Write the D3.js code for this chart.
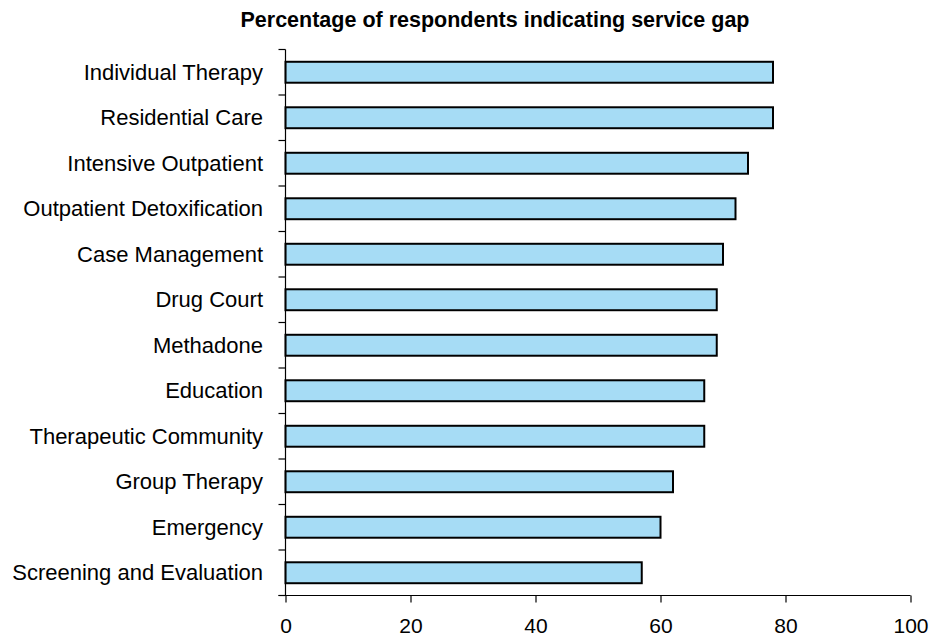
<!DOCTYPE html>
<html>
<head>
<meta charset="utf-8">
<script src="https://cdn.jsdelivr.net/npm/d3@7/dist/d3.min.js"></script>
<style>
  html, body { margin: 0; padding: 0; background: #fff; }
  svg { display: block; font-family: "Liberation Sans", Arial, sans-serif; }
</style>
</head>
<body>
<svg id="chart" width="938" height="640"></svg>
<script>
const categories = [
  "Individual Therapy",
  "Residential Care",
  "Intensive Outpatient",
  "Outpatient Detoxification",
  "Case Management",
  "Drug Court",
  "Methadone",
  "Education",
  "Therapeutic Community",
  "Group Therapy",
  "Emergency",
  "Screening and Evaluation"
];
const values = [78, 78, 74, 72, 70, 69, 69, 67, 67, 62, 60, 57];
const xTicks = [0, 20, 40, 60, 80, 100];
const titleText = "Percentage of respondents indicating service gap";

(function () {
const svg = d3.select("#chart");
const mLeft = 285.5, mRight = 910.5, mTop = 49.5, mBottom = 595.5;

const x = d3.scaleLinear().domain([0, 100]).range([mLeft, mRight]);
const y = d3.scaleBand().domain(categories).range([mTop, mBottom]).paddingInner(0.54).paddingOuter(0.27);

svg.append("text")
  .attr("x", 495).attr("y", 27)
  .attr("text-anchor", "middle")
  .attr("font-weight", "bold")
  .attr("font-size", 21.5)
  .text(titleText);

// bars
svg.append("g").selectAll("rect")
  .data(categories)
  .join("rect")
  .attr("x", x(0))
  .attr("y", d => y(d))
  .attr("width", (d, i) => x(values[i]) - x(0))
  .attr("height", y.bandwidth())
  .attr("fill", "#A6DCF5")
  .attr("stroke", "#000")
  .attr("stroke-width", 2);

// y axis: line + ticks at band boundaries
const step = (mBottom - mTop) / categories.length;
const yAxisG = svg.append("g");
yAxisG.append("line")
  .attr("x1", mLeft).attr("x2", mLeft).attr("y1", mTop).attr("y2", mBottom)
  .attr("stroke", "#000").attr("stroke-width", 1.2);
yAxisG.selectAll("line.tk")
  .data(d3.range(categories.length + 1))
  .join("line").attr("class", "tk")
  .attr("x1", mLeft - 7).attr("x2", mLeft)
  .attr("y1", i => mTop + i * step).attr("y2", i => mTop + i * step)
  .attr("stroke", "#000").attr("stroke-width", 1.2);
yAxisG.selectAll("text")
  .data(categories)
  .join("text")
  .attr("x", 263)
  .attr("y", d => y(d) + y.bandwidth() / 2)
  .attr("dy", "0.35em")
  .attr("text-anchor", "end")
  .attr("font-size", 22)
  .attr("fill", "#000")
  .text(d => d);

// x axis
const xAxis = d3.axisBottom(x).tickValues(xTicks).tickSize(7).tickPadding(16).tickFormat(d3.format("d"));
const xg = svg.append("g").attr("transform", `translate(0,${mBottom})`).call(xAxis);
xg.select(".domain").attr("stroke", "#000").attr("stroke-width", 1.2).attr("d", `M${mLeft - 7},0H${mRight}`);
xg.selectAll(".tick line").attr("stroke", "#000").attr("stroke-width", 1.2);
xg.selectAll(".tick text").attr("font-size", 21).attr("fill", "#000")
  .attr("font-family", "'Liberation Sans', Arial, sans-serif");
})();
</script>
</body>
</html>
